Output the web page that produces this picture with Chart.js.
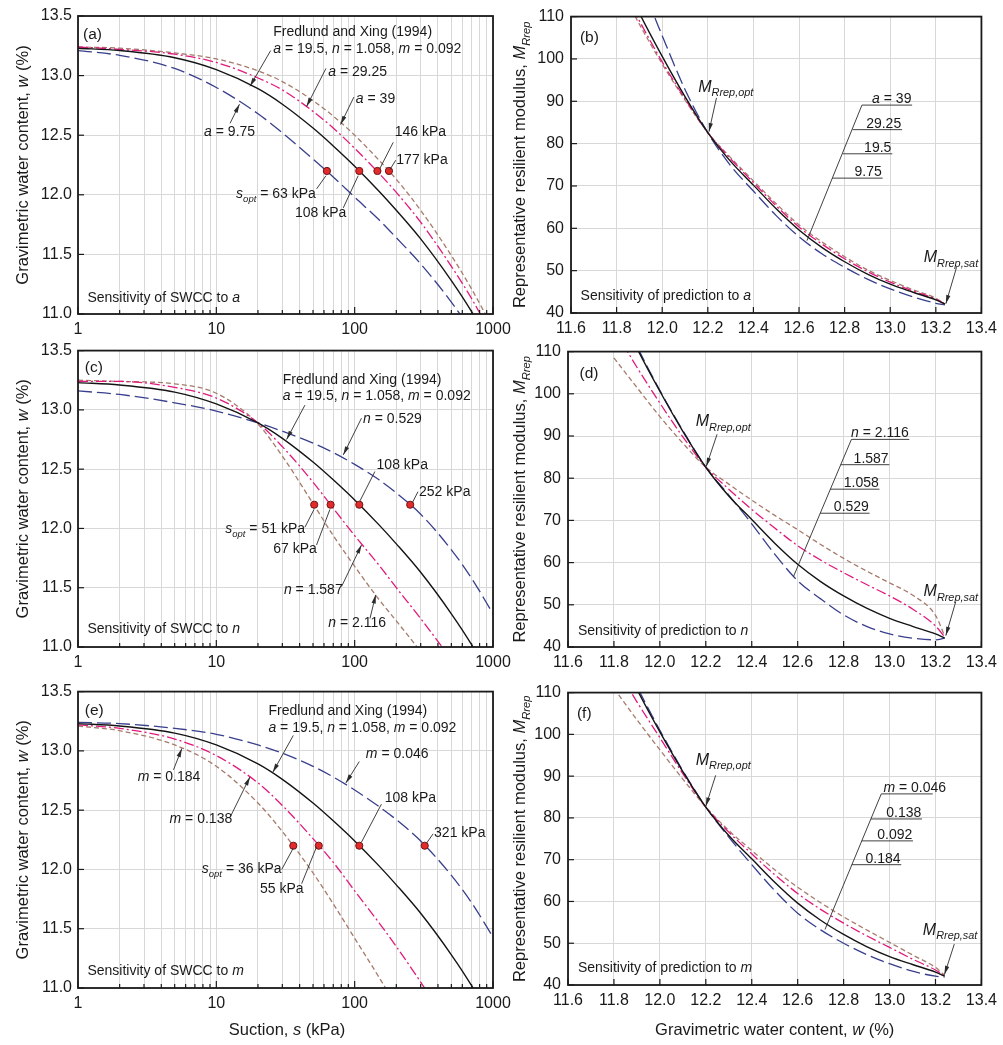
<!DOCTYPE html>
<html lang="en">
<head>
<meta charset="utf-8">
<title>SWCC and resilient modulus sensitivity</title>
<script src="https://cdn.jsdelivr.net/npm/chart.js@4.4.1/dist/chart.umd.min.js"></script>
<style>
  html, body { margin: 0; padding: 0; background: #ffffff; }
  #figure { position: relative; width: 1003px; height: 1045px; overflow: hidden; background: #ffffff; }
  #figure canvas { position: absolute; }
</style>
</head>
<body>
<div id="figure">
  <canvas id="chartA"></canvas>
  <canvas id="chartC"></canvas>
  <canvas id="chartE"></canvas>
  <canvas id="chartB"></canvas>
  <canvas id="chartD"></canvas>
  <canvas id="chartF"></canvas>
</div>
<script>
// ---- values ----

// SWCC panels: suction (kPa) and gravimetric water content (%)
const suction = [1, 2, 5, 10, 20, 30, 50, 70, 100, 150, 200, 300, 500, 700, 1000];

const wBase  = [13.23, 13.21, 13.15, 13.05, 12.89, 12.76, 12.56, 12.41, 12.24, 12.03, 11.87, 11.63, 11.28, 11.02, 10.70];
const wA975  = [13.21, 13.17, 13.06, 12.90, 12.68, 12.52, 12.30, 12.15, 11.98, 11.79, 11.64, 11.42, 11.10, 10.85, 10.55];
const wA2925 = [13.24, 13.22, 13.18, 13.11, 12.98, 12.88, 12.70, 12.56, 12.39, 12.18, 12.02, 11.77, 11.40, 11.13, 10.80];
const wA39   = [13.24, 13.23, 13.19, 13.14, 13.04, 12.95, 12.79, 12.66, 12.50, 12.29, 12.13, 11.87, 11.49, 11.21, 10.88];
const wN0529 = [13.16, 13.13, 13.06, 12.99, 12.89, 12.82, 12.72, 12.64, 12.54, 12.41, 12.30, 12.12, 11.82, 11.58, 11.28];
const wN1587 = [13.24, 13.24, 13.19, 13.10, 12.89, 12.69, 12.39, 12.17, 11.94, 11.69, 11.50, 11.24, 10.89, 10.63, 10.35];
const wN2116 = [13.25, 13.24, 13.22, 13.14, 12.88, 12.61, 12.21, 11.94, 11.68, 11.40, 11.22, 10.96, 10.60, 10.35, 10.05];
const wM0046 = [13.24, 13.23, 13.19, 13.14, 13.05, 12.98, 12.87, 12.78, 12.67, 12.53, 12.42, 12.24, 11.95, 11.72, 11.43];
const wM0138 = [13.22, 13.19, 13.10, 12.96, 12.73, 12.54, 12.26, 12.06, 11.82, 11.55, 11.35, 11.05, 10.65, 10.35, 10.00];
const wM0184 = [13.21, 13.17, 13.05, 12.87, 12.56, 12.32, 11.97, 11.71, 11.42, 11.09, 10.85, 10.50, 10.00, 9.70, 9.30];

// optimum suction markers (all at w = 12.2 %)
const wOpt = 12.2;
const sOptA = [63, 108, 146, 177];
const sOptN = [51, 67, 108, 252];
const sOptM = [36, 55, 108, 321];

// modulus panels: water content (%) and representative resilient modulus
const wc = [11.8, 11.9, 12.0, 12.1, 12.2, 12.3, 12.4, 12.5, 12.6, 12.7, 12.8, 12.9, 13.0, 13.1, 13.2, 13.24];

const mrBase  = [122.0, 110.8, 100.6, 91.1, 82.6, 75.8, 70.2, 64.6, 59.6, 55.5, 52.1, 49.2, 46.8, 44.9, 43.1, 42.1];
const mrA975  = [135.0, 119.0, 105.5, 92.8, 82.6, 74.8, 68.8, 63.0, 58.0, 54.0, 50.8, 48.0, 45.7, 43.8, 42.3, 41.9];
const mrA2925 = [119.5, 109.0, 99.3, 90.6, 82.6, 76.4, 70.8, 65.3, 60.3, 56.3, 52.8, 49.8, 47.3, 45.2, 43.3, 42.1];
const mrA39   = [118.5, 108.2, 98.8, 90.3, 82.6, 76.7, 71.2, 65.8, 60.8, 56.8, 53.3, 50.2, 47.7, 45.5, 43.5, 42.1];
const mrN0529 = [123.0, 111.3, 100.8, 91.3, 82.6, 76.0, 69.2, 62.0, 55.7, 51.4, 47.6, 44.9, 43.1, 42.1, 41.7, 42.1];
const mrN1587 = [115.5, 106.3, 97.8, 89.8, 82.6, 77.4, 72.6, 68.2, 64.0, 60.6, 57.6, 54.8, 52.1, 49.0, 45.0, 42.4];
const mrN2116 = [108.5, 101.5, 94.6, 88.3, 82.6, 78.6, 74.8, 71.2, 67.8, 64.3, 61.0, 58.0, 55.2, 52.3, 47.5, 42.6];
const mrM0046 = [123.0, 111.5, 101.0, 91.3, 82.6, 75.4, 68.8, 62.6, 57.2, 53.2, 50.0, 47.3, 45.1, 43.3, 42.1, 41.9];
const mrM0138 = [117.0, 107.8, 99.2, 90.6, 82.6, 76.6, 71.4, 66.4, 61.9, 58.1, 54.8, 51.8, 49.0, 46.2, 43.6, 42.2];
const mrM0184 = [111.0, 103.5, 96.3, 89.3, 82.6, 77.0, 72.2, 67.6, 63.4, 59.7, 56.3, 53.2, 50.2, 47.2, 44.2, 42.3];

// tick values
const logTicks = [1, 2, 3, 4, 5, 6, 7, 8, 9, 10, 20, 30, 40, 50, 60, 70, 80, 90,
                  100, 200, 300, 400, 500, 600, 700, 800, 900, 1000];
const logLabels = [1, 10, 100, 1000];
const swccTicks = [11.0, 11.5, 12.0, 12.5, 13.0, 13.5];
const wcTicks = [11.6, 11.8, 12.0, 12.2, 12.4, 12.6, 12.8, 13.0, 13.2, 13.4];
const mrTicks = [40, 50, 60, 70, 80, 90, 100, 110];

// ---- look ----
const FONT = '"Liberation Sans", Arial, Helvetica, sans-serif';
const INK = '#1a1a1a';
const GRID = '#d8d8d8';

const STYLE = {
  blue:  { color: '#383f8c', dash: [14, 5], width: 1.3 },
  black: { color: '#141414', dash: [], width: 1.4 },
  pink:  { color: '#e11a7c', dash: [10, 3, 2, 3], width: 1.3 },
  brown: { color: '#a67b6b', dash: [5, 3], width: 1.3 }
};

// canvas placement; plot areas line up with the reference figure
const LAYOUT = {
  chartA: { left: 0,   top: 0,   w: 530, h: 345, padTop: 16, padRight: 37, yW: 78, xH: 31 },
  chartC: { left: 0,   top: 335, w: 530, h: 345, padTop: 15, padRight: 37, yW: 78, xH: 33 },
  chartE: { left: 0,   top: 676, w: 530, h: 369, padTop: 15, padRight: 37, yW: 78, xH: 57 },
  chartB: { left: 503, top: 0,   w: 500, h: 345, padTop: 15, padRight: 16, yW: 68, xH: 32 },
  chartD: { left: 503, top: 335, w: 500, h: 345, padTop: 15, padRight: 19, yW: 65, xH: 33 },
  chartF: { left: 503, top: 676, w: 500, h: 369, padTop: 11, padRight: 19, yW: 65, xH: 60 }
};

Chart.defaults.font.family = FONT;
Chart.defaults.color = INK;

// rich text pieces: [text, style]  style: '' plain, 'i' italic, 's' italic subscript
const FX = [['a', 'i'], [' = 19.5, ', ''], ['n', 'i'], [' = 1.058, ', ''], ['m', 'i'], [' = 0.092', '']];
const T = (s) => [[s, '']];
const V = (v, rest) => [[v, 'i'], [rest, '']];
const SOPT = (rest) => [['s', 'i'], ['opt', 's'], [rest, '']];
const MR = (sub) => [['M', 'i'], ['Rrep,' + sub, 's']];

const panels = [
  {
    id: 'chartA', kind: 'swcc', dots: sOptA,
    series: [[wBase, 'black'], [wA2925, 'pink'], [wA39, 'brown'], [wA975, 'blue']],
    label: ['(a)', 1.087, 13.31],
    caption: [[['Sensitivity of SWCC to ', ''], ['a', 'i']], 1.17, 11.10],
    texts: [
      [T('Fredlund and Xing (1994)'), 25.8, 13.33], [FX, 25.8, 13.19],
      [V('a', ' = 29.25'), 64.4, 13.0], [V('a', ' = 39'), 102, 12.77], [V('a', ' = 9.75'), 8.16, 12.49],
      [T('146 kPa'), 195, 12.49], [T('177 kPa'), 200, 12.26],
      [SOPT(' = 63 kPa'), 13.9, 11.97], [T('108 kPa'), 37, 11.81]
    ],
    arrows: [[24.7, 13.21, 17.5, 12.91], [62, 13.06, 44.9, 12.74], [98.7, 12.82, 79.1, 12.59], [12.57, 12.6, 14.7, 12.76]],
    leaders: [[190, 12.44, 152, 12.22], [198, 12.29, 179.5, 12.21], [53.1, 12.05, 62, 12.16], [82.7, 11.89, 106, 12.16]]
  },
  {
    id: 'chartC', kind: 'swcc', dots: sOptN,
    series: [[wBase, 'black'], [wN1587, 'pink'], [wN2116, 'brown'], [wN0529, 'blue']],
    label: ['(c)', 1.12, 13.32],
    caption: [[['Sensitivity of SWCC to ', ''], ['n', 'i']], 1.17, 11.12],
    texts: [
      [T('Fredlund and Xing (1994)'), 30.2, 13.22], [FX, 30.2, 13.085],
      [V('n', ' = 0.529'), 115, 12.89], [T('108 kPa'), 144, 12.5], [T('252 kPa'), 292, 12.27],
      [SOPT(' = 51 kPa'), 11.6, 11.96], [T('67 kPa'), 25.8, 11.79],
      [V('n', ' = 1.587'), 30.8, 11.45], [V('n', ' = 2.116'), 64.4, 11.17]
    ],
    arrows: [[43.7, 13.04, 32.2, 12.75], [112, 12.93, 82.7, 12.62], [80.4, 11.51, 112, 11.86], [129, 11.24, 142, 11.44]],
    leaders: [[140, 12.48, 109, 12.23], [287, 12.31, 262, 12.22], [43.7, 12.01, 50.8, 12.16], [53, 11.86, 66.2, 12.16]]
  },
  {
    id: 'chartE', kind: 'swcc', dots: sOptM, xTitle: [['Suction, ', ''], ['s', 'i'], [' (kPa)', '']],
    series: [[wBase, 'black'], [wM0138, 'pink'], [wM0184, 'brown'], [wM0046, 'blue']],
    label: ['(e)', 1.12, 13.3],
    caption: [[['Sensitivity of SWCC to ', ''], ['m', 'i']], 1.17, 11.11],
    texts: [
      [T('Fredlund and Xing (1994)'), 23.8, 13.3], [FX, 23.8, 13.16],
      [V('m', ' = 0.046'), 120.5, 12.94], [T('108 kPa'), 165, 12.57], [T('321 kPa'), 375, 12.27],
      [V('m', ' = 0.184'), 2.7, 12.75], [V('m', ' = 0.138'), 4.59, 12.39],
      [SOPT(' = 36 kPa'), 7.85, 11.97], [T('55 kPa'), 20.7, 11.8]
    ],
    arrows: [[36, 13.13, 25.6, 12.82], [108, 12.91, 86.4, 12.73], [4.9, 12.84, 5.63, 13.02], [12.57, 12.44, 17.5, 12.78]],
    leaders: [[156, 12.55, 112, 12.23], [369, 12.30, 330, 12.22], [29.7, 12.0, 36, 12.18], [41.4, 11.88, 53, 12.19]]
  },
  {
    id: 'chartB', kind: 'mr',
    series: [[mrBase, 'black'], [mrA2925, 'pink'], [mrA39, 'brown'], [mrA975, 'blue']],
    label: ['(b)', 11.639, 104.1],
    caption: [[['Sensitivity of prediction to ', ''], ['a', 'i']], 11.642, 43.0],
    texts: [[MR('opt'), 12.158, 92.2, 16], [MR('sat'), 13.147, 52.0, 16]],
    arrows: [[12.238, 90.8, 12.205, 82.8], [13.291, 50.8, 13.244, 42.2]],
    fan: {
      line: [12.635, 57.1, 12.876, 89.1],
      rows: [[89.1, 12.876, 13.096, 13.093, V('a', ' = 39')], [83.3, 12.835, 13.052, 13.048, T('29.25')],
             [77.6, 12.792, 13.009, 13.005, T('19.5')], [71.85, 12.746, 12.967, 12.963, T('9.75')]]
    }
  },
  {
    id: 'chartD', kind: 'mr',
    series: [[mrBase, 'black'], [mrN1587, 'pink'], [mrN2116, 'brown'], [mrN0529, 'blue']],
    label: ['(d)', 11.65, 103.7],
    caption: [[['Sensitivity of prediction to ', ''], ['n', 'i']], 11.643, 42.9],
    texts: [[MR('opt'), 12.156, 92.3, 16], [MR('sat'), 13.148, 52.0, 16]],
    arrows: [[12.249, 90.4, 12.202, 82.8], [13.288, 50.7, 13.245, 42.7]],
    fan: {
      line: [12.581, 56.6, 12.834, 89.2],
      rows: [[89.2, 12.834, 13.086, 13.084, V('n', ' = 2.116')], [83.2, 12.787, 12.999, 12.996, T('1.587')],
             [77.4, 12.742, 12.956, 12.953, T('1.058')], [71.7, 12.698, 12.913, 12.91, T('0.529')]]
    }
  },
  {
    id: 'chartF', kind: 'mr', xTitle: [['Gravimetric water content, ', ''], ['w', 'i'], [' (%)', '']],
    series: [[mrBase, 'black'], [mrM0138, 'pink'], [mrM0184, 'brown'], [mrM0046, 'blue']],
    label: ['(f)', 11.639, 103.9],
    caption: [[['Sensitivity of prediction to ', ''], ['m', 'i']], 11.643, 43.15],
    texts: [[MR('opt'), 12.156, 92.7, 16], [MR('sat'), 13.145, 52.0, 16]],
    arrows: [[12.243, 90.2, 12.2, 82.8], [13.282, 49.8, 13.239, 42.5]],
    fan: {
      line: [12.719, 53.3, 12.964, 85.75],
      rows: [[85.75, 12.964, 13.188, 13.246, V('m', ' = 0.046')], [79.75, 12.919, 13.141, 13.138, T('0.138')],
             [74.5, 12.879, 13.102, 13.099, T('0.092')], [68.8, 12.836, 13.051, 13.048, T('0.184')]]
    }
  }
];

// ---- drawing helpers ----
function richFont(style, size) {
  const italic = style === 'i' || style === 's';
  const px = style === 's' ? size * 0.68 : size;
  return (italic ? 'italic ' : '') + px + 'px ' + FONT;
}

function drawRich(ctx, parts, x, y, size, align) {
  let total = 0;
  parts.forEach(([t, st]) => { ctx.font = richFont(st, size); total += ctx.measureText(t).width; });
  let cx = align === 'center' ? x - total / 2 : align === 'right' ? x - total : x;
  ctx.textAlign = 'left';
  parts.forEach(([t, st]) => {
    ctx.font = richFont(st, size);
    ctx.fillText(t, cx, st === 's' ? y + size * 0.28 : y);
    cx += ctx.measureText(t).width;
  });
}

function segment(ctx, x1, y1, x2, y2) {
  ctx.beginPath();
  ctx.moveTo(x1, y1);
  ctx.lineTo(x2, y2);
  ctx.stroke();
}

function arrow(ctx, x1, y1, x2, y2) {
  segment(ctx, x1, y1, x2, y2);
  const ang = Math.atan2(y2 - y1, x2 - x1);
  const len = 9, spread = 0.24;
  ctx.beginPath();
  ctx.moveTo(x2 - len * Math.cos(ang - spread), y2 - len * Math.sin(ang - spread));
  ctx.lineTo(x2, y2);
  ctx.lineTo(x2 - len * Math.cos(ang + spread), y2 - len * Math.sin(ang + spread));
  ctx.closePath();
  ctx.fill();
}

function sketchPlugin(p) {
  return {
    id: 'sketch_' + p.id,
    afterDraw(chart) {
      const ctx = chart.ctx;
      const A = chart.chartArea;
      const sx = chart.scales.x, sy = chart.scales.y;
      const X = (v) => sx.getPixelForValue(v);
      const Y = (v) => sy.getPixelForValue(v);
      const swcc = p.kind === 'swcc';
      ctx.save();

      // tick marks pointing into the plot
      ctx.strokeStyle = INK;
      ctx.lineWidth = 1.2;
      sx.ticks.forEach((t) => {
        const x = X(t.value);
        const len = swcc ? (logLabels.includes(t.value) ? 7 : 4) : 6;
        segment(ctx, x, A.bottom, x, A.bottom - len);
      });
      sy.ticks.forEach((t) => {
        const y = Y(t.value);
        segment(ctx, A.left, y, A.left + 6, y);
      });

      // plot frame
      ctx.lineWidth = 1.8;
      ctx.strokeRect(A.left, A.top, A.right - A.left, A.bottom - A.top);

      // labels
      ctx.fillStyle = INK;
      ctx.textBaseline = 'alphabetic';
      drawRich(ctx, T(p.label[0]), X(p.label[1]), Y(p.label[2]), 15.5, 'left');
      drawRich(ctx, p.caption[0], X(p.caption[1]), Y(p.caption[2]), 14, 'left');
      p.texts.forEach(([parts, x, y, size]) => drawRich(ctx, parts, X(x), Y(y), size || 14, 'left'));

      // leader lines and arrows
      ctx.strokeStyle = '#2b2b2b';
      ctx.fillStyle = '#2b2b2b';
      ctx.lineWidth = 0.9;
      (p.leaders || []).forEach(([x1, y1, x2, y2]) => segment(ctx, X(x1), Y(y1), X(x2), Y(y2)));
      (p.arrows || []).forEach(([x1, y1, x2, y2]) => arrow(ctx, X(x1), Y(y1), X(x2), Y(y2)));

      if (p.fan) {
        const [fx1, fy1, fx2, fy2] = p.fan.line;
        segment(ctx, X(fx1), Y(fy1), X(fx2), Y(fy2));
        ctx.fillStyle = INK;
        p.fan.rows.forEach(([y, x0, x1, tx, parts]) => {
          segment(ctx, X(x0), Y(y), X(x1), Y(y));
          drawRich(ctx, parts, X(tx), Y(y) - 2, 14, 'right');
        });
      }

      // axis titles
      ctx.fillStyle = INK;
      const midY = (A.top + A.bottom) / 2;
      ctx.save();
      ctx.translate(swcc ? 27.5 : 22, midY);
      ctx.rotate(-Math.PI / 2);
      const yParts = swcc
        ? [['Gravimetric water content, ', ''], ['w', 'i'], [' (%)', '']]
        : [['Representative resilient modulus, ', ''], ['M', 'i'], ['Rrep', 's']];
      drawRich(ctx, yParts, 0, 0, 16.5, 'center');
      ctx.restore();
      if (p.xTitle) {
        drawRich(ctx, p.xTitle, (A.left + A.right) / 2 + (swcc ? 1.5 : 0), chart.height - 10, 16.5, 'center');
      }
      ctx.restore();
    }
  };
}

function curveSet(xs, ys, st) {
  return {
    data: xs.map((x, i) => ({ x: x, y: ys[i] })),
    borderColor: st.color,
    borderWidth: st.width,
    borderDash: st.dash,
    pointRadius: 0,
    fill: false,
    cubicInterpolationMode: 'monotone',
    order: 2
  };
}

function dotSet(xs) {
  return {
    data: xs.map((x) => ({ x: x, y: wOpt })),
    showLine: false,
    pointRadius: 3.6,
    pointBackgroundColor: '#e32b2b',
    pointBorderColor: '#6d1515',
    pointBorderWidth: 1,
    order: 0
  };
}

function fixedTicks(values) {
  return (scale) => { scale.ticks = values.map((v) => ({ value: v })); };
}

function buildScales(p, L) {
  const tickFont = { size: 16, family: FONT };
  const grid = { color: GRID, lineWidth: 1, drawTicks: false };
  if (p.kind === 'swcc') {
    return {
      x: {
        type: 'logarithmic', min: 1, max: 1000,
        afterBuildTicks: fixedTicks(logTicks),
        afterFit: (s) => { s.height = L.xH; },
        ticks: { autoSkip: false, maxRotation: 0, padding: 6, font: tickFont, color: INK,
                 callback: (v) => (logLabels.includes(v) ? String(v) : '') },
        grid: grid, border: { display: false }
      },
      y: {
        type: 'linear', min: 11, max: 13.5,
        afterBuildTicks: fixedTicks(swccTicks),
        afterFit: (s) => { s.width = L.yW; },
        ticks: { padding: 6, font: tickFont, color: INK, callback: (v) => v.toFixed(1) },
        grid: grid, border: { display: false }
      }
    };
  }
  return {
    x: {
      type: 'linear', min: 11.6, max: 13.4,
      afterBuildTicks: fixedTicks(wcTicks),
      afterFit: (s) => { s.height = L.xH; },
      ticks: { autoSkip: false, maxRotation: 0, padding: 6, font: tickFont, color: INK,
               callback: (v) => v.toFixed(1) },
      grid: grid, border: { display: false }
    },
    y: {
      type: 'linear', min: 40, max: 110,
      afterBuildTicks: fixedTicks(mrTicks),
      afterFit: (s) => { s.width = L.yW; },
      ticks: { padding: 7, font: tickFont, color: INK, callback: (v) => String(v) },
      grid: grid, border: { display: false }
    }
  };
}

function makeChart(p) {
  const L = LAYOUT[p.id];
  const canvas = document.getElementById(p.id);
  canvas.width = L.w;
  canvas.height = L.h;
  canvas.style.left = L.left + 'px';
  canvas.style.top = L.top + 'px';
  canvas.style.width = L.w + 'px';
  canvas.style.height = L.h + 'px';

  const xs = p.kind === 'swcc' ? suction : wc;
  const datasets = [];
  if (p.dots) datasets.push(dotSet(p.dots));
  p.series.forEach(([ys, key]) => datasets.push(curveSet(xs, ys, STYLE[key])));

  return new Chart(canvas, {
    type: 'line',
    data: { datasets: datasets },
    options: {
      responsive: false,
      animation: false,
      devicePixelRatio: 1,
      events: [],
      layout: { padding: { top: L.padTop, right: L.padRight, left: 0, bottom: 0 } },
      plugins: { legend: { display: false }, tooltip: { enabled: false } },
      scales: buildScales(p, L)
    },
    plugins: [sketchPlugin(p)]
  });
}

panels.forEach(makeChart);
</script>
</body>
</html>
